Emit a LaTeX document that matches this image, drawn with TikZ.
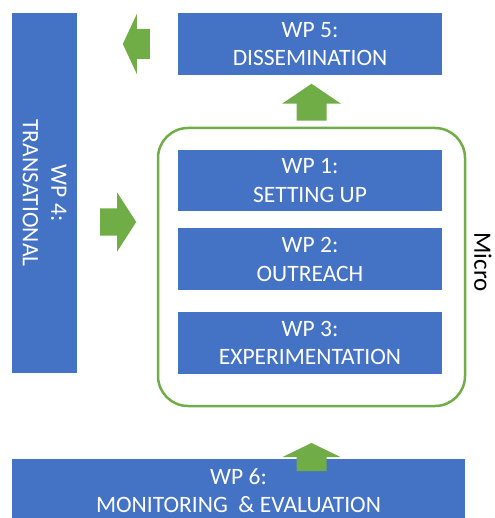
\documentclass[tikz,border=0pt]{standalone}
\usepackage{fontspec}
\setmainfont{Carlito}
\usetikzlibrary{positioning}

\definecolor{wpblue}{HTML}{4472C4}
\definecolor{wpgreen}{HTML}{70AD47}

% block arrow: tail point, angle, length, head length, half shaft, half head
\newcommand{\greenarrow}[6]{%
  \fill[wpgreen,shift={#1},rotate=#2] (0,-#5) -- (#3-#4,-#5) -- (#3-#4,-#6) -- (#3,0)
    -- (#3-#4,#6) -- (#3-#4,#5) -- (0,#5) -- cycle;}

\begin{document}
\begin{tikzpicture}[x=1pt,y=-1pt,
  wp/.style={rectangle,fill=wpblue,text=white,align=center,inner sep=0pt,
    font=\fontsize{23.5}{28.5}\selectfont,minimum width=264pt,minimum height=62pt}]

\clip (0,0) rectangle (494,518);

\node[wp]   (wp5) at (310,44)          {WP 5:\\DISSEMINATION};
\node[wp,minimum height=61pt]   (wp1) at (310,180.5)     {WP 1:\\SETTING UP};
\node[wp]   (wp2) [below=17pt of wp1]  {WP 2:\\OUTREACH};
\node[wp]   (wp3) [below=21pt of wp2]  {WP 3:\\EXPERIMENTATION};
\node[wp,rotate=-90,minimum width=360pt,minimum height=65pt]   (wp4) at (44.5,193)  {WP 4:\\TRANSATIONAL};
\node[wp,anchor=north,minimum width=453pt,minimum height=63pt]   (wp6) at (238.5,459)  {WP 6:\\MONITORING \ \& EVALUATION};

\node[draw=wpgreen,line width=2.5pt,rounded corners=30pt,
  minimum width=307pt,minimum height=278pt]   (micro) at (311.5,267)  {};
\node[rotate=-90,font=\fontsize{25}{30}\selectfont]   (microlabel) at (483,262)  {Micro};

\greenarrow{([xshift=-28pt]wp5.west)}{180}{27}{14}{15}{30}
\greenarrow{([yshift=6pt]micro.north)}{90}{37}{20}{15}{29.5}
\greenarrow{([xshift=23pt,yshift=-29pt]wp4.north)}{0}{36}{19}{13.5}{29.5}
\greenarrow{([yshift=-12pt]wp6.north -| micro.south)}{90}{28}{14}{15}{29}

\end{tikzpicture}
\end{document}
